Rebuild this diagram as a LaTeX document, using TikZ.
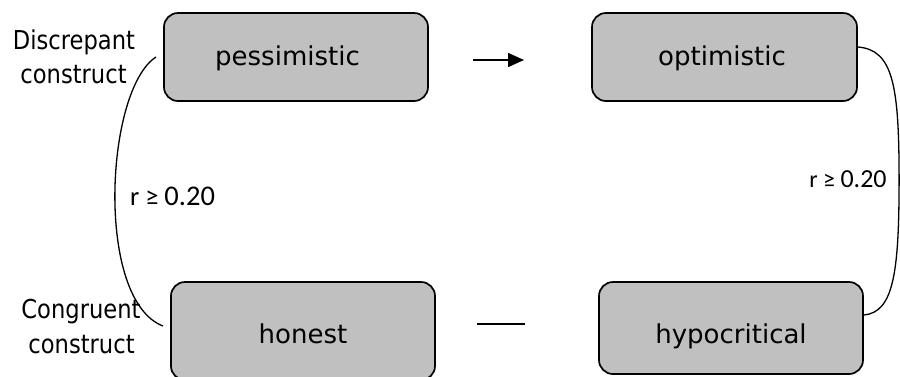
\documentclass[tikz,border=0pt]{standalone}
\usepackage{fontspec}
\setmainfont{DejaVu Sans}
% narrower sans for the side captions
\newfontfamily\captionfont{DejaVu Sans}[FakeStretch=0.87]
\newfontfamily\corrfont{Carlito}
\usetikzlibrary{arrows.meta}
\definecolor{boxgray}{RGB}{192,192,192}

\begin{document}
\begin{tikzpicture}[x=1pt,y=-1pt,
  box/.style={draw=black, line width=1.7pt, fill=boxgray, rounded corners=14pt,
              inner sep=0pt},
  boxtext/.style={anchor=base, inner sep=0pt, font=\fontsize{26}{31}\selectfont},
  sidetext/.style={anchor=base, inner sep=0pt, font=\captionfont\fontsize{26}{31}\selectfont},
  corrtext/.style={anchor=base, inner sep=0pt},
  arcline/.style={line width=1.3pt},
  link/.style={line width=1.6pt},
]
\useasboundingbox (0,0) rectangle (900,376);

% construct boxes
\node[box, minimum width=264pt, minimum height=88pt] (pess) at (296,57) {};
\node[box, minimum width=265pt, minimum height=88pt] (opt)  at (724.5,57) {};
\node[box, minimum width=264pt, minimum height=98pt] (hon)  at (303,331) {};
\node[box, minimum width=264pt, minimum height=92pt] (hyp)  at (731,328) {};

\node[boxtext] (tpess) at (287.5,65) {pessimistic};
\node[boxtext] (topt)  at (722,65)   {optimistic};
\node[boxtext] (thon)  at (303,343)  {honest};
\node[boxtext] (thyp)  at (731,343)  {hypocritical};

% side captions
\node[sidetext] (disc1) at (74,49)   {Discrepant};
\node[sidetext] (disc2) at (73.5,83) {construct};
\node[sidetext] (cong1) at (81,318)  {Congruent};
\node[sidetext] (cong2) at (81.5,353) {construct};

% correlation arcs
\coordinate (lTop) at (156,57);
\coordinate (lBot) at (163,326);
\draw[arcline] (lTop) .. controls (105,90) and (95,300) .. (lBot);

\coordinate (rTop) at (858,47);
\coordinate (rMid) at (899.1,180);
\coordinate (rBot) at (864,315);
\draw[arcline] (rTop) .. controls (893,50) and (899.1,85) .. (rMid)
               .. controls (899.1,275) and (893,312) .. (rBot);

\node[corrtext] (rleft)  at (172.5,205.5)
  {\corrfont\fontsize{26.5}{32}\selectfont r ≥ \fontsize{28.5}{34}\selectfont 0.20};
\node[corrtext] (rright) at (848,187)
  {\corrfont\fontsize{24}{29}\selectfont r ≥ \fontsize{26}{31}\selectfont 0.20};

% links between the pairs
\coordinate (aS) at (473,60);
\coordinate (aE) at (524,60);
\draw[link, -{Triangle[length=16pt,width=14pt]}] (aS) -- (aE);

\coordinate (bS) at (477,324);
\coordinate (bE) at (525,324);
\draw[link] (bS) -- (bE);
\end{tikzpicture}
\end{document}
